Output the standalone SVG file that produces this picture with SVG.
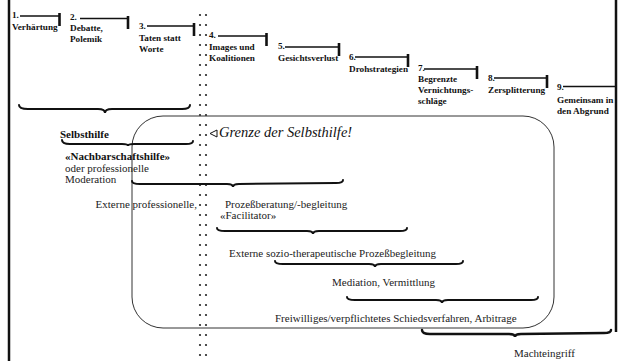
<svg xmlns="http://www.w3.org/2000/svg" width="618" height="361" viewBox="0 0 618 361">
<defs>
<style>
.st{font-family:"Liberation Serif","Times New Roman",serif;font-size:9.2px;font-weight:bold;fill:#111}
.lb{font-family:"Liberation Serif","Times New Roman",serif;font-size:11px;fill:#222}
.lbb{font-family:"Liberation Serif","Times New Roman",serif;font-size:11px;font-weight:bold;fill:#111}
.it{font-family:"Liberation Serif","Times New Roman",serif;font-size:14.5px;font-style:italic;fill:#111}
.hl{stroke:#111;stroke-width:1.6;fill:none}
.tk{stroke:#111;stroke-width:2.6;fill:none}
.br{stroke:#111;stroke-width:2;fill:none;stroke-linecap:round}
.bd{stroke:#111;stroke-width:2.5}
</style>
<pattern id="dots" x="0" y="10" width="12" height="10" patternUnits="userSpaceOnUse">
<circle cx="2" cy="5" r="1.1" fill="#222"/>
<circle cx="8" cy="5" r="1.1" fill="#222"/>
</pattern>
</defs>
<rect width="618" height="361" fill="#fff"/>
<!-- borders -->
<line class="bd" x1="9" y1="0" x2="9" y2="361"/>
<line class="bd" x1="616" y1="0" x2="616" y2="332"/>
<!-- dotted boundary -->
<rect x="197" y="10" width="12" height="350" fill="url(#dots)"/>
<!-- rounded area -->
<rect x="132" y="116" width="422" height="212" rx="31" ry="31" fill="none" stroke="#333" stroke-width="1"/>

<g id="stage1"><text class="st" x="12" y="18">1.</text><line class="hl" x1="20" y1="16" x2="59" y2="16"/><line class="tk" x1="59.5" y1="13" x2="59.5" y2="26"/><text class="st" x="12" y="30">Verhärtung</text></g>
<g id="stage2"><text class="st" x="70" y="20">2.</text><line class="hl" x1="80" y1="18.5" x2="128" y2="18.5"/><line class="tk" x1="128" y1="16" x2="128" y2="29"/><text class="st" x="70" y="31">Debatte,</text><text class="st" x="70" y="42">Polemik</text></g>
<g id="stage3"><text class="st" x="139" y="29">3.</text><line class="hl" x1="147" y1="26" x2="194" y2="26"/><line class="tk" x1="194" y1="23" x2="194" y2="36"/><text class="st" x="139" y="41">Taten statt</text><text class="st" x="139" y="52">Worte</text></g>
<g id="stage4"><text class="st" x="209" y="38">4.</text><line class="hl" x1="218" y1="36" x2="266" y2="36"/><line class="tk" x1="266.5" y1="33" x2="266.5" y2="46"/><text class="st" x="209" y="50">Images und</text><text class="st" x="209" y="61">Koalitionen</text></g>
<g id="stage5"><text class="st" x="278" y="49">5.</text><line class="hl" x1="285" y1="47" x2="339" y2="47"/><line class="tk" x1="339" y1="43" x2="339" y2="56"/><text class="st" x="278" y="61">Gesichtsverlust</text></g>
<g id="stage6"><text class="st" x="349" y="60">6.</text><line class="hl" x1="355" y1="57" x2="408" y2="57"/><line class="tk" x1="408" y1="54" x2="408" y2="67"/><text class="st" x="349" y="72">Drohstrategien</text></g>
<g id="stage7"><text class="st" x="418" y="71">7.</text><line class="hl" x1="424" y1="69" x2="477" y2="69"/><line class="tk" x1="477" y1="66" x2="477" y2="79"/><text class="st" x="418" y="82">Begrenzte</text><text class="st" x="418" y="93">Vernichtungs-</text><text class="st" x="418" y="104">schläge</text></g>
<g id="stage8"><text class="st" x="488" y="81">8.</text><line class="hl" x1="494" y1="78" x2="547" y2="78"/><line class="tk" x1="547" y1="75" x2="547" y2="88"/><text class="st" x="488" y="93">Zersplitterung</text></g>
<g id="stage9"><text class="st" x="557" y="90">9.</text><line class="hl" x1="563" y1="86.5" x2="616" y2="86.5"/><text class="st" x="557" y="103">Gemeinsam in</text><text class="st" x="557" y="114">den Abgrund</text></g>

<g id="connectors">
<path class="br" d="M19 105 Q19 109 28 109 L98 109 Q105 109 105 113 Q105 109 112 109 L182 109 Q190 109 190 105"/>
<path class="br" d="M62 140 Q62 144 70 144 L122 144 Q128 144 128 146 Q128 144 134 144 L186 144 Q193 144 193 141"/>
<path class="br" d="M132 181 Q132 184 140 184 L227 184 Q233 184 233 187 Q233 184 239 184 L336 183 Q343 183 343 180"/>
<path class="br" d="M217 228 Q217 231 225 231 L307 231 Q313 231 313 234 Q313 231 319 231 L400 231 Q407 231 407 228"/>
<path class="br" d="M275 261 Q275 264 283 264 L369 264 Q375 264 375 267 Q375 264 381 264 L456 264 Q463 264 463 261"/>
<path class="br" d="M347 297 Q347 300 355 300 L436 300 Q442 300 442 303 Q442 300 448 300 L531 300 Q538 300 538 297"/>
<path class="br" style="stroke-width:2.5" d="M422 330 Q422 334 430 334 L509 334 Q515 334 515 337 Q515 334 521 334 L604 333 Q611 333 611 330"/>
</g>

<g id="selbsthilfe"><text class="lbb" x="60" y="138">Selbsthilfe</text></g>
<g id="grenze"><polygon points="210,133.5 217,130 217,137" fill="none" stroke="#111" stroke-width="1"/><text class="it" x="219" y="137">Grenze der Selbsthilfe!</text></g>
<g id="nachbarschaft"><text class="lbb" x="65" y="160">«Nachbarschaftshilfe»</text><text class="lb" x="65" y="172">oder professionelle</text><text class="lb" x="65" y="183">Moderation</text></g>
<g id="extern"><text class="lb" x="197" y="208" text-anchor="end">Externe professionelle,</text></g>
<g id="prozess"><text class="lb" x="225" y="208">Prozeßberatung/-begleitung</text><text class="lb" x="220" y="219">«Facilitator»</text></g>
<g id="sozio"><text class="lb" x="229" y="257">Externe sozio-therapeutische Prozeßbegleitung</text></g>
<g id="mediation"><text class="lb" x="332" y="286">Mediation, Vermittlung</text></g>
<g id="schied"><text class="lb" x="275" y="322">Freiwilliges/verpflichtetes Schiedsverfahren, Arbitrage</text></g>
<g id="macht"><text class="lb" x="514" y="357">Machteingriff</text></g>
</svg>
